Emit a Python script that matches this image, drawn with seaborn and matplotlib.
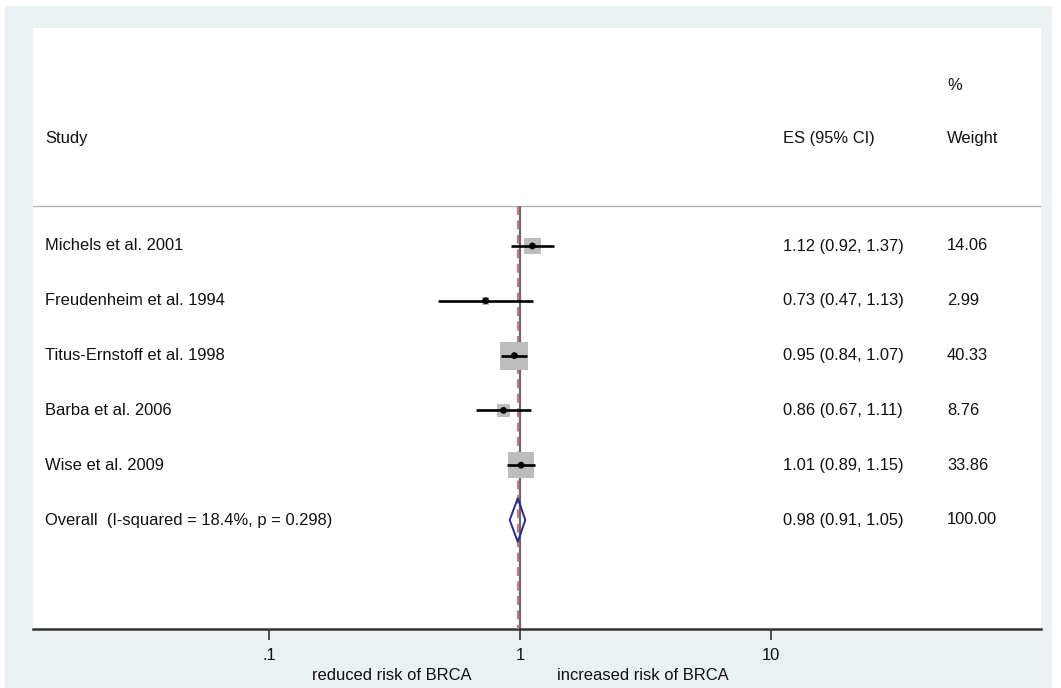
import matplotlib
matplotlib.use("Agg")
import matplotlib.pyplot as plt
import seaborn as sns
import numpy as np
import pandas as pd
from matplotlib.patches import Rectangle, Polygon

studies = ["Michels et al. 2001", "Freudenheim et al. 1994", "Titus-Ernstoff et al. 1998",
           "Barba et al. 2006", "Wise et al. 2009"]
es = [1.12, 0.73, 0.95, 0.86, 1.01]
lo = [0.92, 0.47, 0.84, 0.67, 0.89]
hi = [1.37, 1.13, 1.07, 1.11, 1.15]
weights = [14.06, 2.99, 40.33, 8.76, 33.86]
overall_label = "Overall  (I-squared = 18.4%, p = 0.298)"
overall_es, overall_lo, overall_hi, overall_w = 0.98, 0.91, 1.05, 100.00
tick_vals = [0.1, 1, 10]
tick_labels = [".1", "1", "10"]

sns.set_theme(style="white")
plt.rcParams['font.family'] = ['Liberation Sans', 'DejaVu Sans']
plt.rcParams['text.color'] = '#111111'
plt.rcParams['xtick.color'] = '#111111'

W, H = 1061, 688
fig = plt.figure(figsize=(W / 100, H / 100), dpi=100, facecolor="white")
bg = Rectangle((5 / W, 0), (1052 - 5) / W, (H - 6) / H, transform=fig.transFigure,
               facecolor="#eaf1f3", edgecolor="none", zorder=-10)
fig.patches.append(bg)

left, right, top, bottom = 33, 1041, 28, 629
ax = fig.add_axes([left / W, (H - bottom) / H, (right - left) / W, (bottom - top) / H])
ax.set_zorder(1)
ax.set_facecolor("white")

ppd = 251.0  # pixels per decade
x0 = 520.0
ax.set_xscale("log")
ax.set_xlim(10 ** ((left - x0) / ppd), 10 ** ((right - x0) / ppd))
row0, rowh = 246.0, 54.8
ax.set_ylim((bottom - row0) / rowh, (top - row0) / rowh)

n = len(studies)
df = pd.DataFrame({"study": studies, "es": es, "lo": lo, "hi": hi, "w": weights,
                   "row": np.arange(n)})

# reference lines
ax.vlines(1, (206 - row0) / rowh, (bottom - row0) / rowh, color="#6a6a6a", lw=1.6, zorder=2)
ax.vlines(overall_es, (206 - row0) / rowh, (bottom - row0) / rowh, color="#c77a86",
          lw=1.6, linestyles=(0, (4, 2.5)), zorder=3)

# boxes
sns.scatterplot(data=df, x="es", y="row", marker="s", s=df["w"] * 10.0, color="#bdbdbd",
                edgecolor="none", linewidth=0, ax=ax, zorder=4, legend=False)
# CI lines
ax.hlines(df["row"], df["lo"], df["hi"], color="black", lw=1.9, zorder=5)
# points
sns.scatterplot(data=df, x="es", y="row", marker="o", s=24, color="black",
                edgecolor="none", ax=ax, zorder=6, legend=False)

# overall diamond
yo = n
dh = 0.4
diamond = Polygon([[overall_lo, yo], [overall_es, yo - dh], [overall_hi, yo], [overall_es, yo + dh]],
                  closed=True, facecolor="none", edgecolor="#2b2b8c", lw=1.4, zorder=6)
ax.add_patch(diamond)

# header line
ax.axhline((206 - row0) / rowh, color="#b5b5b5", lw=1.0, zorder=1)

# texts
fs = 11.9
xt_study = 10 ** ((45 - x0) / ppd)
xt_es = 10 ** ((783 - x0) / ppd)
xt_w = 10 ** ((947 - x0) / ppd)
yh = (139 - row0) / rowh
ax.text(xt_study, yh, "Study", fontsize=fs, va="center", ha="left")
ax.text(xt_es, yh, "ES (95% CI)", fontsize=fs, va="center", ha="left")
ax.text(xt_w, yh, "Weight", fontsize=fs, va="center", ha="left")
ax.text(xt_w, (85 - row0) / rowh, "%", fontsize=fs, va="center", ha="left")
for i in range(n):
    ax.text(xt_study, i, studies[i], fontsize=fs, va="center", ha="left")
    ax.text(xt_es, i, f"{es[i]:.2f} ({lo[i]:.2f}, {hi[i]:.2f})", fontsize=fs, va="center", ha="left")
    ax.text(xt_w, i, f"{weights[i]:.2f}", fontsize=fs, va="center", ha="left")
ax.text(xt_study, yo, overall_label, fontsize=fs, va="center", ha="left")
ax.text(xt_es, yo, f"{overall_es:.2f} ({overall_lo:.2f}, {overall_hi:.2f})", fontsize=fs,
        va="center", ha="left")
ax.text(xt_w, yo, f"{overall_w:.2f}", fontsize=fs, va="center", ha="left")

# axes styling
for s in ["top", "left", "right"]:
    ax.spines[s].set_visible(False)
ax.spines["bottom"].set_color("#333333")
ax.spines["bottom"].set_linewidth(1.8)
ax.set_xticks(tick_vals)
ax.set_xticklabels(tick_labels, fontsize=fs)
ax.xaxis.set_minor_locator(matplotlib.ticker.NullLocator())
ax.tick_params(axis="x", direction="out", length=8, width=1.2, color="#333333", pad=6,
               bottom=True, labelcolor="#111111")
ax.set_yticks([])
ax.set_xlabel("")
ax.set_ylabel("")

ybot = -(675 - bottom) / (bottom - top)
ax.text(10 ** ((472 - x0) / ppd), ybot, "reduced risk of BRCA", fontsize=fs, ha="right",
        va="center", transform=ax.get_xaxis_transform())
ax.text(10 ** ((557 - x0) / ppd), ybot, "increased risk of BRCA", fontsize=fs, ha="left",
        va="center", transform=ax.get_xaxis_transform())

fig.savefig("out.png", dpi=100, facecolor="white")
